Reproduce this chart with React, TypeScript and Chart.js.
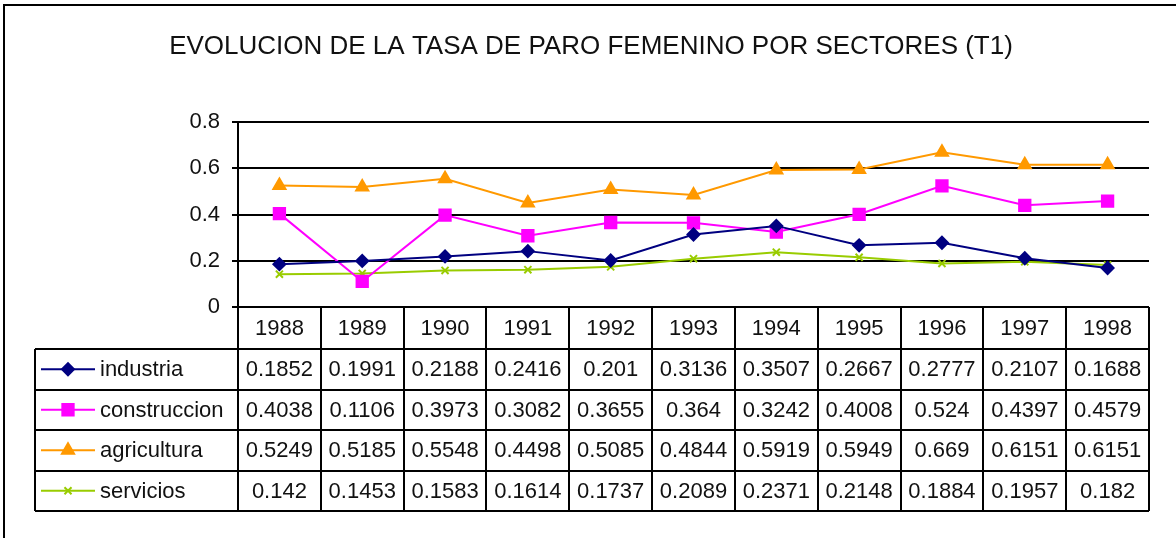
import React, { useEffect, useRef } from "react";
import { Chart, registerables } from "chart.js";
import { drawPoint } from "chart.js/helpers";

Chart.register(...registerables);

const chartTitle = "EVOLUCION DE LA TASA DE PARO FEMENINO POR SECTORES (T1)";
const years = ["1988", "1989", "1990", "1991", "1992", "1993", "1994", "1995", "1996", "1997", "1998"];
const seriesNames = ["industria", "construccion", "agricultura", "servicios"];
const industria = [0.1852, 0.1991, 0.2188, 0.2416, 0.201, 0.3136, 0.3507, 0.2667, 0.2777, 0.2107, 0.1688];
const construccion = [0.4038, 0.1106, 0.3973, 0.3082, 0.3655, 0.364, 0.3242, 0.4008, 0.524, 0.4397, 0.4579];
const agricultura = [0.5249, 0.5185, 0.5548, 0.4498, 0.5085, 0.4844, 0.5919, 0.5949, 0.669, 0.6151, 0.6151];
const servicios = [0.142, 0.1453, 0.1583, 0.1614, 0.1737, 0.2089, 0.2371, 0.2148, 0.1884, 0.1957, 0.182];
const yMin = 0;
const yMax = 0.8;
const yStep = 0.2;

const FONT = "'Liberation Sans', Arial, sans-serif";
const W = 1176;
const H = 538;

const seriesValues = [industria, construccion, agricultura, servicios];
const seriesColors = ["#000080", "#FF00FF", "#FF9900", "#99CC00"];
const seriesPoints = ["rectRot", "rect", "triangle", "crossRot"];
const seriesRadius = [6, 8, 7, 5];

const framePlugin = {
  id: "frame",
  beforeDraw(chart: any) {
    const ctx = chart.ctx;
    ctx.save();
    ctx.fillStyle = "#ffffff";
    ctx.fillRect(0, 0, chart.width, chart.height);
    ctx.fillStyle = "#000000";
    ctx.fillRect(3, 4, 2, chart.height - 4);
    ctx.fillRect(3, 4, chart.width - 3, 2);
    ctx.font = `26px ${FONT}`;
    ctx.fillStyle = "#111111";
    ctx.textAlign = "center";
    ctx.textBaseline = "middle";
    ctx.fillText(chartTitle, 591, 47);
    ctx.restore();
  },
};

const tablePlugin = {
  id: "dataTable",
  afterDraw(chart: any) {
    const ctx = chart.ctx;
    const area = chart.chartArea;
    const n = years.length;
    const colW = (area.right - area.left) / n;
    const tableLeft = 35;
    const headerTop = area.bottom;
    const headerBottom = headerTop + 42;
    const rowH = 40.5;
    const tableBottom = headerBottom + rowH * seriesNames.length;

    ctx.save();
    ctx.strokeStyle = "#000000";
    ctx.lineWidth = 2;
    ctx.beginPath();
    // horizontal lines
    ctx.moveTo(area.left, headerTop);
    ctx.lineTo(area.right, headerTop);
    for (let r = 0; r <= seriesNames.length; r++) {
      const y = Math.round(headerBottom + r * rowH);
      ctx.moveTo(tableLeft, y);
      ctx.lineTo(area.right, y);
    }
    // vertical lines
    for (let i = 0; i <= n; i++) {
      const x = Math.round(area.left + i * colW);
      ctx.moveTo(x, headerTop);
      ctx.lineTo(x, Math.round(tableBottom));
    }
    ctx.moveTo(tableLeft, headerBottom);
    ctx.lineTo(tableLeft, Math.round(tableBottom));
    ctx.stroke();

    ctx.font = `22px ${FONT}`;
    ctx.fillStyle = "#111111";
    ctx.textAlign = "center";
    ctx.textBaseline = "middle";
    for (let i = 0; i < n; i++) {
      const cx = area.left + (i + 0.5) * colW;
      ctx.fillText(years[i], cx, (headerTop + headerBottom) / 2 + 1);
      for (let s = 0; s < seriesNames.length; s++) {
        const cy = headerBottom + (s + 0.5) * rowH + 1;
        ctx.fillText(String(seriesValues[s][i]), cx, cy);
      }
    }

    // legend keys
    for (let s = 0; s < seriesNames.length; s++) {
      const cy = headerBottom + (s + 0.5) * rowH;
      ctx.strokeStyle = seriesColors[s];
      ctx.lineWidth = 2;
      ctx.beginPath();
      ctx.moveTo(41, cy);
      ctx.lineTo(95, cy);
      ctx.stroke();
      ctx.fillStyle = seriesColors[s];
      drawPoint(ctx, { pointStyle: seriesPoints[s], rotation: 0, radius: seriesRadius[s], borderWidth: 2 }, 68, cy);
      ctx.fillStyle = "#111111";
      ctx.textAlign = "left";
      ctx.fillText(seriesNames[s], 100, cy + 1);
    }
    ctx.restore();
  },
};

export default function App() {
  const ref = useRef<HTMLCanvasElement>(null);

  useEffect(() => {
    document.body.style.margin = "0";
    const canvas = ref.current;
    if (!canvas) return;
    const chart = new Chart(canvas, {
      type: "line",
      data: {
        labels: years,
        datasets: seriesNames.map((name, i) => ({
          label: name,
          data: seriesValues[i],
          borderColor: seriesColors[i],
          backgroundColor: seriesColors[i],
          pointBackgroundColor: seriesColors[i],
          pointBorderColor: seriesColors[i],
          pointStyle: seriesPoints[i] as any,
          pointRadius: seriesRadius[i],
          pointBorderWidth: 2,
          borderWidth: 2,
          tension: 0,
          fill: false,
        })),
      },
      options: {
        responsive: false,
        animation: false,
        devicePixelRatio: 1,
        layout: { padding: { top: 122, bottom: H - 307, right: W - 1149, left: 0 } },
        plugins: {
          legend: { display: false },
          tooltip: { enabled: false },
          title: { display: false },
        },
        scales: {
          x: {
            display: false,
            offset: true,
          },
          y: {
            min: yMin,
            max: yMax,
            afterFit(scale: any) {
              scale.width = 238;
            },
            ticks: {
              stepSize: yStep,
              padding: 12,
              color: "#111111",
              font: { family: FONT, size: 22 },
              callback: (v: any) => String(Math.round(Number(v) * 10) / 10),
            },
            grid: {
              color: "#000000",
              lineWidth: 2,
              tickLength: 6,
              drawTicks: true,
            },
            border: { display: true, color: "#000000", width: 2 },
          },
        },
      },
      plugins: [framePlugin, tablePlugin],
    });
    return () => chart.destroy();
  }, []);

  return <canvas ref={ref} width={W} height={H} style={{ display: "block" }} />;
}
